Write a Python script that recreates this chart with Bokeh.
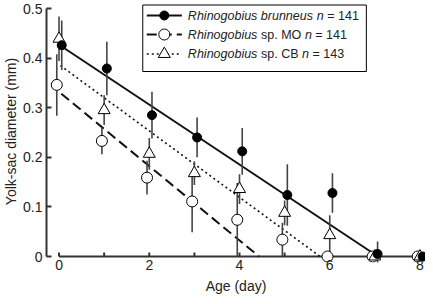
import numpy as np
from bokeh.plotting import figure
from bokeh.models import FixedTicker, Range1d, Label
from bokeh.embed import file_html
from bokeh.resources import INLINE

# ---------------- data ----------------
days = [0, 1, 2, 3, 4, 5, 6, 7, 8]

brunneus_mean = [0.426, 0.379, 0.285, 0.240, 0.212, 0.124, 0.128, 0.005, 0.0]
brunneus_err = [0.050, 0.054, 0.047, 0.040, 0.047, 0.062, 0.040, 0.025, 0.0]

mo_mean = [0.346, 0.233, 0.159, 0.111, 0.074, 0.034, 0.0, 0.0, 0.0]
mo_err = [0.062, 0.027, 0.034, 0.062, 0.074, 0.034, 0.0, 0.0, 0.0]

cb_mean = [0.439, 0.295, 0.207, 0.168, 0.136, 0.088, 0.043, 0.0, 0.0]
cb_err = [0.045, 0.030, 0.032, 0.024, 0.030, 0.025, 0.040, 0.0, 0.0]

# regression fits: intercept, slope (line drawn from first point to zero crossing)
fit_intercept = [0.427, 0.332, 0.387]
fit_slope = [-0.0604, -0.0749, -0.0669]

series_names = ["brunneus", "MO", "CB"]
legend_rows = [
    [("Rhinogobius brunneus", "italic"), (" ", "normal"), ("n", "italic"), (" = 141", "normal")],
    [("Rhinogobius", "italic"), (" sp. MO ", "normal"), ("n", "italic"), (" = 141", "normal")],
    [("Rhinogobius", "italic"), (" sp. CB ", "normal"), ("n", "italic"), (" = 143", "normal")],
]

x_label_ticks = [0, 2, 4, 6, 8]
x_all_ticks = [0, 1, 2, 3, 4, 5, 6, 7, 8]
y_ticks = [0, 0.1, 0.2, 0.3, 0.4, 0.5]
y_tick_labels = ["0", "0.1", "0.2", "0.3", "0.4", "0.5"]

# ---------------- layout constants ----------------
FONT = "Liberation Sans"
INK = "#222222"
AXC = "#333333"
W, H = 425, 296
PX_DAY = 45.0
PX_MM = 496.0
DAY0_PX = 59.5      # figure px of day 0
ZERO_PY = 256.0     # figure px of 0 mm
FRAME_L = 47.0
FRAME_B = 262.0

X_START = -(DAY0_PX - FRAME_L) / PX_DAY
X_END = (W - DAY0_PX) / PX_DAY
Y_END = ZERO_PY / PX_MM
Y_START = -(FRAME_B - ZERO_PY) / PX_MM


def fx(px):
    return (px - DAY0_PX) / PX_DAY


def fy(py):
    return (ZERO_PY - py) / PX_MM


OFFS = [0.06, -0.05, 0.0]

p = figure(width=W, height=H, output_backend="svg", toolbar_location=None,
           x_range=Range1d(X_START, X_END), y_range=Range1d(Y_START, Y_END),
           min_border_left=0, min_border_right=0, min_border_top=0, min_border_bottom=0)
p.outline_line_color = None
p.grid.grid_line_color = None
p.background_fill_color = "white"
p.border_fill_color = "white"

# y axis
yax = p.yaxis[0]
yax.ticker = FixedTicker(ticks=y_ticks)
yax.major_label_overrides = {t: s for t, s in zip(y_ticks, y_tick_labels)}
yax.bounds = (y_ticks[0], y_ticks[-1])
yax.major_tick_in = 5
yax.major_tick_out = 0
yax.minor_tick_line_color = None
yax.axis_line_width = 2
yax.axis_line_color = AXC
yax.major_tick_line_width = 2
yax.major_tick_line_color = AXC
yax.axis_label = "Yolk-sac diameter (mm)"
yax.axis_label_text_font = FONT
yax.axis_label_text_font_size = "14px"
yax.axis_label_text_font_style = "normal"
yax.axis_label_text_color = INK
yax.axis_label_standoff = 1
yax.major_label_text_font = FONT
yax.major_label_text_font_size = "14px"
yax.major_label_text_color = INK
yax.major_label_standoff = 4

# x axis (labels only; line and ticks drawn at y = 0)
xax = p.xaxis[0]
xax.ticker = FixedTicker(ticks=x_label_ticks)
xax.axis_line_color = None
xax.major_tick_line_color = None
xax.minor_tick_line_color = None
xax.major_tick_in = 0
xax.major_tick_out = 0
xax.major_label_standoff = -3
xax.major_label_text_font = FONT
xax.major_label_text_font_size = "14px"
xax.major_label_text_color = INK
xax.axis_label = "Age (day)"
xax.axis_label_text_font = FONT
xax.axis_label_text_font_size = "14px"
xax.axis_label_text_font_style = "normal"
xax.axis_label_text_color = INK
xax.axis_label_standoff = 5

TICK_LEN = 4 / PX_MM
p.segment(x0=[x_all_ticks[0]], y0=[0], x1=[x_all_ticks[-1]], y1=[0],
          line_color=AXC, line_width=2)
p.segment(x0=x_all_ticks, y0=[0] * len(x_all_ticks), x1=x_all_ticks,
          y1=[TICK_LEN] * len(x_all_ticks), line_color=AXC, line_width=2)

# regression lines
dashes = ["solid", "10 5", "2 3"]
widths = [2, 2, 1.6]
for a, b, off, dsh, lw in zip(fit_intercept, fit_slope, OFFS, dashes, widths):
    x0 = days[0] + (abs(off) if off != 0 else 0.03)
    x1 = -a / b
    p.line(x=[x0, x1], y=[a + b * x0, 0.0], line_color="#111111", line_width=lw, line_dash=dsh)

# error bars
d = np.array(days, dtype=float)
for mean, err, off in [(brunneus_mean, brunneus_err, OFFS[0]),
                       (mo_mean, mo_err, OFFS[1]),
                       (cb_mean, cb_err, OFFS[2])]:
    m = np.array(mean)
    e = np.array(err)
    keep = e > 0
    p.segment(x0=(d + off)[keep], y0=(m - e)[keep], x1=(d + off)[keep], y1=(m + e)[keep],
              line_color="#444444", line_width=1.6)

# markers
MARK = [dict(marker="circle", size=9, fill_color="black", line_color="black", line_width=1),
        dict(marker="circle", size=11, fill_color="white", line_color="black", line_width=1),
        dict(marker="triangle", size=12, fill_color="white", line_color="black", line_width=1)]
p.scatter(x=d + OFFS[1], y=mo_mean, **MARK[1])
p.scatter(x=d + OFFS[2], y=cb_mean, **MARK[2])
p.scatter(x=d + OFFS[0], y=brunneus_mean, **MARK[0])

# ---------------- legend (manual, mixed italics) ----------------
CW = {' ': 278, '.': 278, '=': 584, '0': 556, '1': 556, '2': 556, '3': 556, '4': 556,
      '5': 556, '6': 556, '7': 556, '8': 556, '9': 556, 'B': 667, 'C': 722, 'M': 833,
      'O': 778, 'R': 722, 'a': 556, 'b': 556, 'e': 556, 'g': 556, 'h': 556, 'i': 222,
      'n': 556, 'o': 556, 'p': 556, 'r': 333, 's': 500, 'u': 556}
LFS = 12.5


def tw(s):
    return sum(CW.get(c, 556) for c in s) / 1000.0 * LFS


BOX_L, BOX_R, BOX_T, BOX_B = 143, 366, 4.5, 71
ROW_Y = [15, 34, 53.5]
p.quad(left=[fx(BOX_L)], right=[fx(BOX_R)], top=[fy(BOX_T)], bottom=[fy(BOX_B)],
       fill_color="white", line_color="black", line_width=1)
for i, row in enumerate(legend_rows):
    yy = fy(ROW_Y[i])
    p.line(x=[fx(147), fx(182)], y=[yy, yy], line_color="#111111",
           line_width=widths[i], line_dash=dashes[i])
    p.scatter(x=[fx(164.5)], y=[yy], **MARK[i])
    xpx = 188.0
    for txt, style in row:
        core = txt.strip()
        lead = len(txt) - len(txt.lstrip())
        if core:
            p.add_layout(Label(x=fx(xpx + tw(txt[:lead])), y=yy, text=core, text_font=FONT,
                               text_font_size=f"{LFS}px", text_font_style=style,
                               text_color=INK, text_baseline="middle", text_align="left"))
        xpx += tw(txt)

open("out.html", "w").write(file_html(p, INLINE))
